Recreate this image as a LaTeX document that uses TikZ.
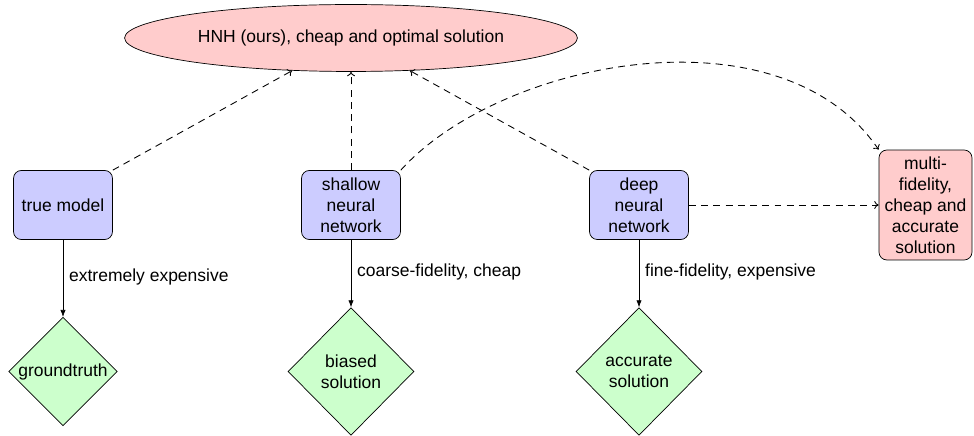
\documentclass[tikz,border=0pt]{standalone}
\usepackage{fontspec}
\setmainfont{Liberation Sans}
\usetikzlibrary{shapes.geometric,arrows.meta}
\begin{document}
\begin{tikzpicture}[x=0.572pt,y=-0.572pt,
  every node/.style={font=\fontsize{10}{12}\selectfont},
  modelbox/.style={draw,rounded corners=4.5pt,fill=blue!20,align=center,minimum width=56.6pt,minimum height=39.5pt,inner sep=1pt},
  resultbox/.style={draw,rounded corners=4.5pt,fill=red!20,align=center,minimum width=53.2pt,minimum height=62.9pt,inner sep=1pt},
  outcome/.style={draw,diamond,fill=green!20,align=center,inner sep=0pt},
  hnhstyle/.style={draw,ellipse,fill=red!20,minimum width=259pt,minimum height=38.3pt,inner sep=0pt},
  solidarrow/.style={-{Latex[length=4pt,width=3pt]}},
  dasharrow/.style={-{To[length=2.5pt,width=4.5pt]},line width=0.5pt,dash pattern=on 4pt off 3pt}]
\useasboundingbox (0,0) rectangle (974,436);
\node[hnhstyle] (hnh) at (351,38) {HNH (ours), cheap and optimal solution};
\node[modelbox] (tm) at (63,205) {true model};
\node[modelbox] (snn) at (351,205) {shallow\\neural\\network};
\node[modelbox] (dnn) at (639,205) {deep\\neural\\network};
\node[resultbox] (mf) at (925.5,205) {multi-\\fidelity,\\cheap and\\accurate\\solution};
\node[outcome,minimum width=62pt,minimum height=62pt] (gt) at (63,371.5) {groundtruth};
\node[outcome,minimum width=72pt,minimum height=73pt] (bs) at (351,371.5) {biased\\solution};
\node[outcome,minimum width=72pt,minimum height=73pt] (as) at (639,371.5) {accurate\\solution};
\draw[solidarrow] (tm) -- node[right,pos=0.48] {extremely expensive} (gt);
\draw[solidarrow] (snn) -- node[right,pos=0.48] {coarse-fidelity, cheap} (bs);
\draw[solidarrow] (dnn) -- node[right,pos=0.48] {fine-fidelity, expensive} (as);
\draw[dasharrow] (tm.north east) -- (hnh);
\draw[dasharrow] (snn) -- (hnh);
\draw[dasharrow] (dnn.north west) -- (hnh);
\draw[dasharrow] (dnn) -- (mf);
\draw[dasharrow] (snn.north east) .. controls (500,60) and (780,5) .. (mf.north west);
\end{tikzpicture}
\end{document}
